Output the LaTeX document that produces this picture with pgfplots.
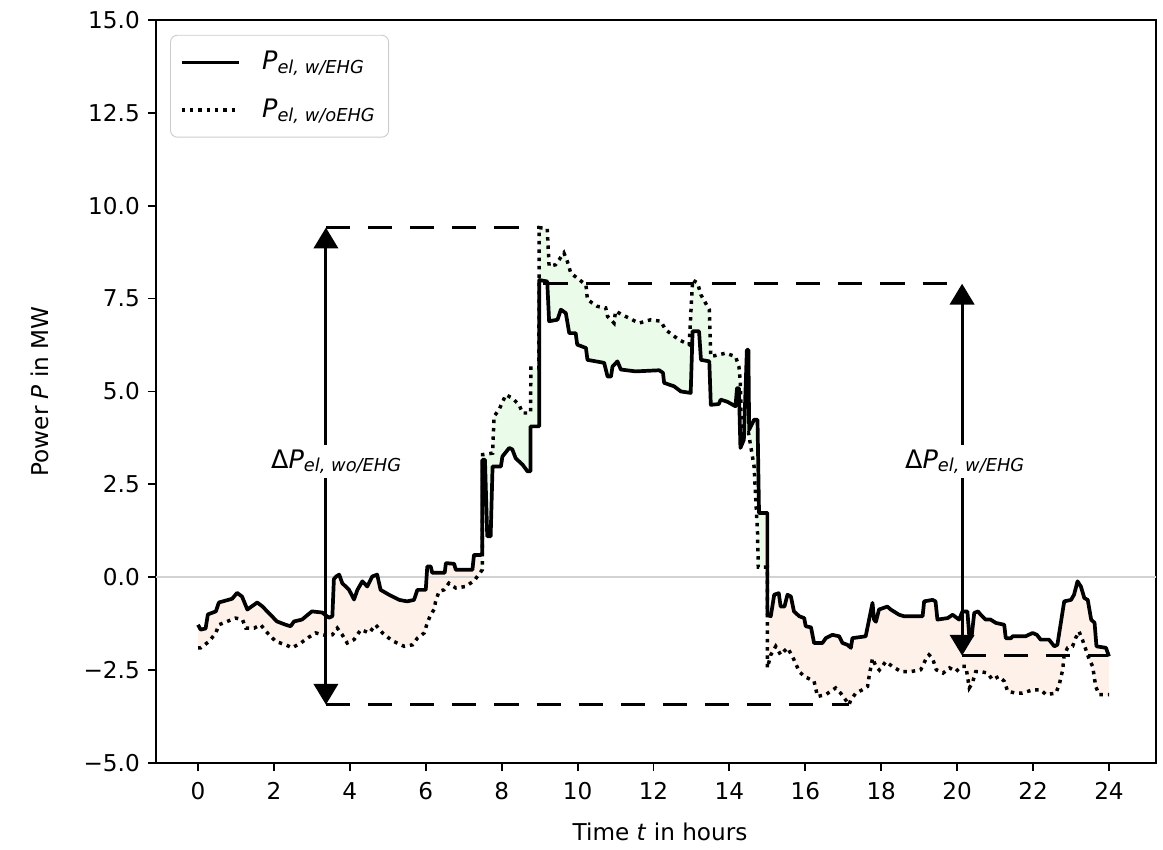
\documentclass[border=0pt]{standalone}
\usepackage{fontspec}
\setmainfont{DejaVu Sans}
\usepackage{pgfplots}
\pgfplotsset{compat=1.18}
\usepgfplotslibrary{fillbetween}
\usetikzlibrary{arrows.meta}
\definecolor{fillg}{HTML}{EAFBEA}
\definecolor{fillp}{HTML}{FDF1EA}
\newcommand{\sub}[1]{\raisebox{-1.6pt}{\fontsize{7.7}{9}\selectfont\itshape #1}}
\begin{document}
\begin{tikzpicture}
\begin{axis}[
  scale only axis, width=432pt, height=321pt,
  xmin=-1.106, xmax=25.24, ymin=-5, ymax=15,
  xtick={0,2,...,24},
  xticklabels={0,2,4,6,8,10,12,14,16,18,20,22,24},
  ytick={-5,-2.5,0,2.5,5,7.5,10,12.5,15},
  yticklabels={−5.0,−2.5,0.0,2.5,5.0,7.5,10.0,12.5,15.0},
  tick align=outside, major tick length=3.5pt,
  tick style={black, line width=0.8pt},
  xtick pos=left, ytick pos=left,
  axis line style={black, line width=0.8pt},
  tick label style={font=\fontsize{10}{12}\selectfont},
  xticklabel style={yshift=-1.5pt},
  every axis y label/.style={at={(axis description cs:-0.116,0.5)}, rotate=90, anchor=center, font=\fontsize{10}{12}\selectfont},
  every axis x label/.style={at={(axis description cs:0.504,-0.093)}, anchor=center, font=\fontsize{10}{12}\selectfont},
  xlabel={Time \textit{t} in hours},
  ylabel={Power \textit{P} in MW},
  legend cell align=left,
  legend image code/.code={\draw[#1] (0pt,0pt) -- (25pt,0pt);},
  legend style={at={(axis description cs:0.014,0.98)}, anchor=north west,
    draw=black!20, rounded corners=3pt, fill=white,
    font=\fontsize{11}{13}\selectfont, inner xsep=4pt, inner ysep=5pt,
    row sep=7pt, /tikz/every odd column/.append style={column sep=7pt}},
  set layers,
]
\addplot[gray!35, line width=1pt, forget plot] coordinates {(-1.106,0) (25.24,0)};

\addplot[black, line width=1.6pt, line join=round, name path=A] coordinates {
(0.0,-1.28) (0.07,-1.41) (0.2,-1.38) (0.26,-1.0) (0.47,-0.92) (0.55,-0.68) (0.9,-0.58)
(1.03,-0.42) (1.16,-0.52) (1.3,-0.87) (1.56,-0.68) (1.69,-0.78) (2.08,-1.19) (2.31,-1.28)
(2.44,-1.32) (2.53,-1.19) (2.74,-1.14) (3.0,-0.92) (3.27,-0.95) (3.45,-1.09) (3.54,-1.05)
(3.58,-0.05) (3.64,0.02) (3.72,0.07) (3.8,-0.16) (3.98,-0.34) (4.11,-0.6) (4.2,-0.34)
(4.33,-0.11) (4.46,-0.25) (4.59,0.02) (4.72,0.07) (4.81,-0.34) (5.03,-0.47) (5.3,-0.61)
(5.51,-0.65) (5.69,-0.61) (5.78,-0.34) (6.0,-0.34) (6.04,0.29) (6.13,0.29) (6.17,0.12)
(6.5,0.12) (6.53,0.38) (6.75,0.36) (6.79,0.2) (7.23,0.2) (7.27,0.6) (7.45,0.6) (7.49,0.65)
(7.49,3.16) (7.56,3.16) (7.62,1.1) (7.71,1.1) (7.76,2.98) (7.98,2.98) (8.02,3.25) (8.2,3.48)
(8.28,3.44) (8.37,3.2) (8.55,3.03) (8.68,2.85) (8.76,2.85) (8.76,4.06) (8.99,4.06) (8.99,8.0)
(9.2,7.96) (9.25,6.89) (9.47,6.93) (9.56,7.2) (9.69,7.11) (9.78,6.57) (9.95,6.57) (9.99,6.26)
(10.22,6.17) (10.26,5.85) (10.7,5.77) (10.79,5.4) (10.88,5.4) (10.92,5.67) (11.05,5.81)
(11.14,5.59) (11.53,5.54) (12.15,5.57) (12.25,5.5) (12.28,5.23) (12.54,5.14) (12.72,5.0)
(12.98,4.96) (13.03,6.62) (13.2,6.62) (13.25,5.85) (13.47,5.81) (13.51,4.64) (13.72,4.66)
(13.77,4.78) (13.95,4.72) (14.16,4.6) (14.2,5.09) (14.25,5.09) (14.29,3.48) (14.38,3.7)
(14.46,6.12) (14.5,6.12) (14.52,3.97) (14.65,4.24) (14.74,4.24) (14.78,1.73) (15.0,1.73)
(15.0,-1.01) (15.09,-1.05) (15.18,-0.47) (15.3,-0.43) (15.35,-0.79) (15.45,-0.79) (15.53,-0.47)
(15.62,-0.52) (15.7,-0.92) (15.84,-1.05) (15.97,-1.1) (16.01,-1.32) (16.15,-1.35) (16.23,-1.77)
(16.45,-1.77) (16.54,-1.64) (16.71,-1.55) (16.89,-1.59) (16.98,-1.77) (17.11,-1.82) (17.2,-1.9)
(17.24,-1.64) (17.59,-1.59) (17.68,-1.14) (17.77,-0.69) (17.81,-1.14) (17.86,-1.2) (17.94,-0.87)
(18.16,-0.79) (18.25,-0.87) (18.47,-1.01) (18.6,-1.05) (19.09,-1.05) (19.13,-0.65) (19.35,-0.61)
(19.43,-0.65) (19.48,-1.14) (19.75,-1.1) (19.88,-1.01) (20.05,-1.14) (20.14,-0.92) (20.27,-0.92)
(20.32,-1.6) (20.38,-1.6) (20.45,-0.96) (20.55,-0.92) (20.62,-1.01) (20.75,-1.14) (20.88,-1.14)
(21.02,-1.23) (21.24,-1.28) (21.28,-1.64) (21.42,-1.64) (21.46,-1.59) (21.8,-1.59) (21.99,-1.5)
(22.1,-1.55) (22.2,-1.68) (22.42,-1.68) (22.56,-1.86) (22.64,-1.82) (22.82,-0.65) (23.0,-0.61)
(23.08,-0.47) (23.17,-0.11) (23.26,-0.25) (23.35,-0.56) (23.44,-0.61) (23.53,-1.14) (23.62,-1.23)
(23.67,-1.86) (23.92,-1.9) (24.0,-2.13)
};
\addlegendentry{\textit{P}\sub{el, w/EHG}}

\addplot[black, line width=1.5pt, dash pattern=on 1.5pt off 2.1pt, name path=B] coordinates {
(0.0,-1.9) (0.07,-1.9) (0.29,-1.73) (0.47,-1.5) (0.55,-1.28) (0.77,-1.19) (0.99,-1.1) (1.17,-1.14)
(1.26,-1.37) (1.48,-1.37) (1.65,-1.28) (1.83,-1.5) (2.05,-1.73) (2.31,-1.82) (2.48,-1.9)
(2.71,-1.77) (2.88,-1.64) (3.1,-1.5) (3.37,-1.57) (3.54,-1.55) (3.67,-1.37) (3.8,-1.55)
(3.93,-1.77) (4.11,-1.68) (4.29,-1.41) (4.51,-1.5) (4.68,-1.28) (4.86,-1.5) (5.03,-1.64)
(5.16,-1.73) (5.43,-1.86) (5.65,-1.82) (5.78,-1.64) (5.96,-1.5) (6.04,-1.23) (6.13,-1.01)
(6.22,-0.87) (6.26,-0.65) (6.35,-0.38) (6.48,-0.34) (6.61,-0.16) (6.79,-0.29) (7.05,-0.25)
(7.27,-0.1) (7.49,0.2) (7.5,3.3) (7.76,3.34) (7.8,4.33) (7.93,4.51) (8.11,4.91) (8.28,4.82)
(8.46,4.64) (8.55,4.42) (8.76,4.42) (8.77,5.63) (8.98,5.63) (8.99,9.41) (9.2,9.38) (9.25,8.37)
(9.42,8.41) (9.64,8.73) (9.73,8.5) (9.82,8.19) (9.99,8.05) (10.22,7.87) (10.26,7.47) (10.52,7.29)
(10.74,7.25) (10.79,7.02) (10.96,6.84) (11.0,7.16) (11.26,7.02) (11.62,6.84) (11.93,6.93)
(12.19,6.89) (12.32,6.66) (12.67,6.39) (12.94,6.26) (13.03,8.0) (13.16,7.92) (13.25,7.6)
(13.47,7.2) (13.51,5.94) (13.73,5.99) (13.9,6.03) (14.16,5.94) (14.25,5.67) (14.29,5.23)
(14.32,3.7) (14.5,3.9) (14.65,2.98) (14.74,1.2) (14.76,0.27) (15.0,0.27) (15.0,-2.44)
(15.09,-2.09) (15.22,-1.86) (15.35,-2.09) (15.53,-1.9) (15.66,-2.13) (15.84,-2.54) (15.97,-2.67)
(16.23,-2.8) (16.32,-3.21) (16.54,-3.16) (16.8,-2.98) (16.93,-3.12) (17.06,-3.3) (17.15,-3.43)
(17.2,-3.3) (17.33,-3.12) (17.5,-3.03) (17.64,-2.94) (17.68,-2.67) (17.77,-2.18) (17.86,-2.4)
(17.95,-2.5) (18.12,-2.27) (18.29,-2.4) (18.52,-2.54) (18.78,-2.54) (19.04,-2.49) (19.17,-2.22)
(19.26,-2.09) (19.35,-2.18) (19.45,-2.49) (19.63,-2.58) (19.8,-2.44) (19.97,-2.54) (20.1,-2.4)
(20.23,-2.4) (20.32,-2.98) (20.4,-2.85) (20.49,-2.54) (20.62,-2.54) (20.8,-2.58) (20.93,-2.76)
(21.1,-2.67) (21.24,-2.8) (21.33,-3.07) (21.55,-3.12) (21.72,-3.12) (21.99,-3.03) (22.2,-3.03)
(22.34,-3.16) (22.6,-3.12) (22.69,-2.89) (22.78,-2.49) (22.82,-2.09) (22.91,-1.9) (23.04,-1.86)
(23.12,-1.64) (23.21,-1.46) (23.3,-1.68) (23.39,-1.95) (23.48,-2.22) (23.57,-2.4) (23.61,-2.67)
(23.65,-2.94) (23.74,-3.16) (24.0,-3.16)
};
\addlegendentry{\textit{P}\sub{el, w/oEHG}}

\addplot[fill=fillp, forget plot] fill between[of=A and B];
\addplot[fill=fillg, forget plot] fill between[of=A and B, soft clip={domain=7.4:14.88}];

\addplot[black, line width=1.5pt, dash pattern=on 10.4pt off 7.8pt, forget plot] coordinates {(3.37,9.41) (9.06,9.41)};
\addplot[black, line width=1.5pt, dash pattern=on 10.4pt off 7.8pt, forget plot] coordinates {(3.37,-3.43) (17.15,-3.43)};
\addplot[black, line width=1.5pt, dash pattern=on 10.4pt off 7.8pt, forget plot] coordinates {(9.1,7.9) (20.13,7.9)};
\addplot[black, line width=1.5pt, dash pattern=on 10.4pt off 7.8pt, forget plot] coordinates {(20.13,-2.11) (23.95,-2.11)};

\addplot[black, line width=1.3pt, {Triangle[width=10.5pt,length=9pt]}-{Triangle[width=10.5pt,length=9pt]}, forget plot] coordinates {(3.37,-3.43) (3.37,9.41)};
\addplot[black, line width=1.3pt, {Triangle[width=10.5pt,length=9pt]}-{Triangle[width=10.5pt,length=9pt]}, forget plot] coordinates {(20.13,-2.11) (20.13,7.9)};

\node[fill=white, inner sep=2pt, font=\fontsize{11}{13}\selectfont] at (axis cs:3.64,3.11) {Δ\textit{P}\sub{el, wo/EHG}};
\node[fill=white, inner sep=2pt, font=\fontsize{11}{13}\selectfont] at (axis cs:20.2,3.11) {Δ\textit{P}\sub{el, w/EHG}};
\end{axis}
\path (-67.4pt,-37.2pt) rectangle (435.0pt,329.6pt);
\end{tikzpicture}
\end{document}
